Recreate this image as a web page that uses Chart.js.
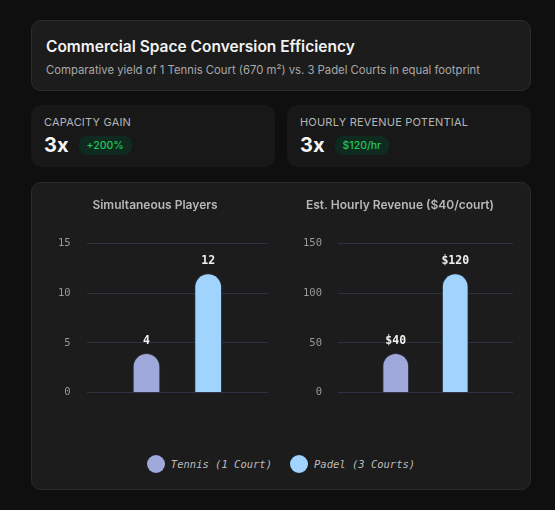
<!DOCTYPE html>
<html><head><meta charset="utf-8">
<script src="https://cdn.jsdelivr.net/npm/chart.js@4.4.0/dist/chart.umd.min.js"></script>
<style>
*{box-sizing:border-box}
body{margin:0;background:#0f0f0f;font-family:Inter,"Noto Sans",sans-serif;color:#eee;width:555px;height:510px;overflow:hidden}
.card{position:absolute;background:#1c1c1c;border:1px solid #2c2c2c;border-radius:10px}
#hdr{left:31px;top:20px;width:500px;height:71px;padding:16px 14px}
#hdr h1{margin:0;font-size:15.5px;font-weight:600;color:#f2f2f2}
#hdr p{margin:7px 0 0;font-size:11.3px;color:#a8a8a8}
.stat{top:105px;height:62px;padding:10px 13px;border:none;background:#181818}
.stat .l{font-size:11px;color:#b5b5b5;letter-spacing:0.2px}
.stat .v{margin-top:4px;font-size:20px;font-weight:700;color:#f5f5f5;display:flex;align-items:center}
.badge{margin-left:10px;font-size:10.5px;font-weight:500;color:#22c55e;background:#0f2a1e;border-radius:8px;padding:3px 8px}
#main{left:31px;top:182px;width:500px;height:308px}
.cw{position:absolute;top:6px;width:240px;height:226px}
#leg{position:absolute;top:272px;left:0;width:100%;display:flex;justify-content:center;gap:18px;font-family:"DejaVu Sans Mono",monospace;font-style:italic;font-size:10.5px;color:#bbb}
#leg span{display:flex;align-items:center}
#leg i{display:inline-block;width:18px;height:18px;border-radius:50%;margin-right:6px}
</style></head><body>
<div class="card" id="hdr"><h1>Commercial Space Conversion Efficiency</h1><p>Comparative yield of 1 Tennis Court (670 m²) vs. 3 Padel Courts in equal footprint</p></div>
<div class="card stat" style="left:31px;width:244px"><div class="l">CAPACITY GAIN</div><div class="v">3x<span class="badge">+200%</span></div></div>
<div class="card stat" style="left:287px;width:244px"><div class="l">HOURLY REVENUE POTENTIAL</div><div class="v">3x<span class="badge">$120/hr</span></div></div>
<div class="card" id="main">
<div class="cw" style="left:10px"><canvas id="c1"></canvas></div>
<div class="cw" style="left:255px"><canvas id="c2"></canvas></div>
<div id="leg"><span><i style="background:#9fa8da"></i>Tennis (1 Court)</span><span><i style="background:#a0d4ff"></i>Padel (3 Courts)</span></div>
</div>
<script>
const seriesNames=['Tennis (1 Court)','Padel (3 Courts)'];
const players=[4,12];
const revenue=[40,120];
const colors=['#9fa8da','#a0d4ff'];
const playerTicks=[0,5,10,15];
const revenueTicks=[0,50,100,150];
const labelPlugin={id:'vl',afterDatasetsDraw(c){const ctx=c.ctx;const pre=c.options.plugins.vl.prefix||'';
c.data.datasets.forEach((d,i)=>{const el=c.getDatasetMeta(i).data[0];ctx.save();ctx.fillStyle='#f0f0f0';ctx.font='bold 11.5px "DejaVu Sans Mono",monospace';ctx.textAlign='center';ctx.fillText(pre+d.data[0],el.x,el.y-9);ctx.restore();});}};
function mk(id,vals,title,max,pre){
new Chart(document.getElementById(id),{type:'bar',plugins:[labelPlugin],
data:{labels:[''],datasets:vals.map((v,i)=>({label:seriesNames[i],data:[v],backgroundColor:colors[i],borderColor:'#2a2f3a',borderWidth:1,borderSkipped:'bottom',borderRadius:{topLeft:14,topRight:14},barPercentage:0.45,categoryPercentage:0.68}))},
options:{responsive:true,maintainAspectRatio:false,animation:false,layout:{padding:{top:4,right:14}},
plugins:{legend:{display:false},tooltip:{enabled:false},vl:{prefix:pre},title:{display:true,text:title,color:'#b8b8b8',font:{family:'Inter',size:12,weight:'600'},padding:{top:5,bottom:31}}},
scales:{x:{display:false},y:{min:0,max:max,ticks:{stepSize:max/3,color:'#999',font:{family:'"DejaVu Sans Mono",monospace',size:10.5},padding:16,callback:v=>v},grid:{color:'#2e3140',drawTicks:false},border:{display:false}}}}});}
mk('c1',players,'Simultaneous Players',15,'');
mk('c2',revenue,'Est. Hourly Revenue ($40/court)',150,'$');
</script></body></html>
